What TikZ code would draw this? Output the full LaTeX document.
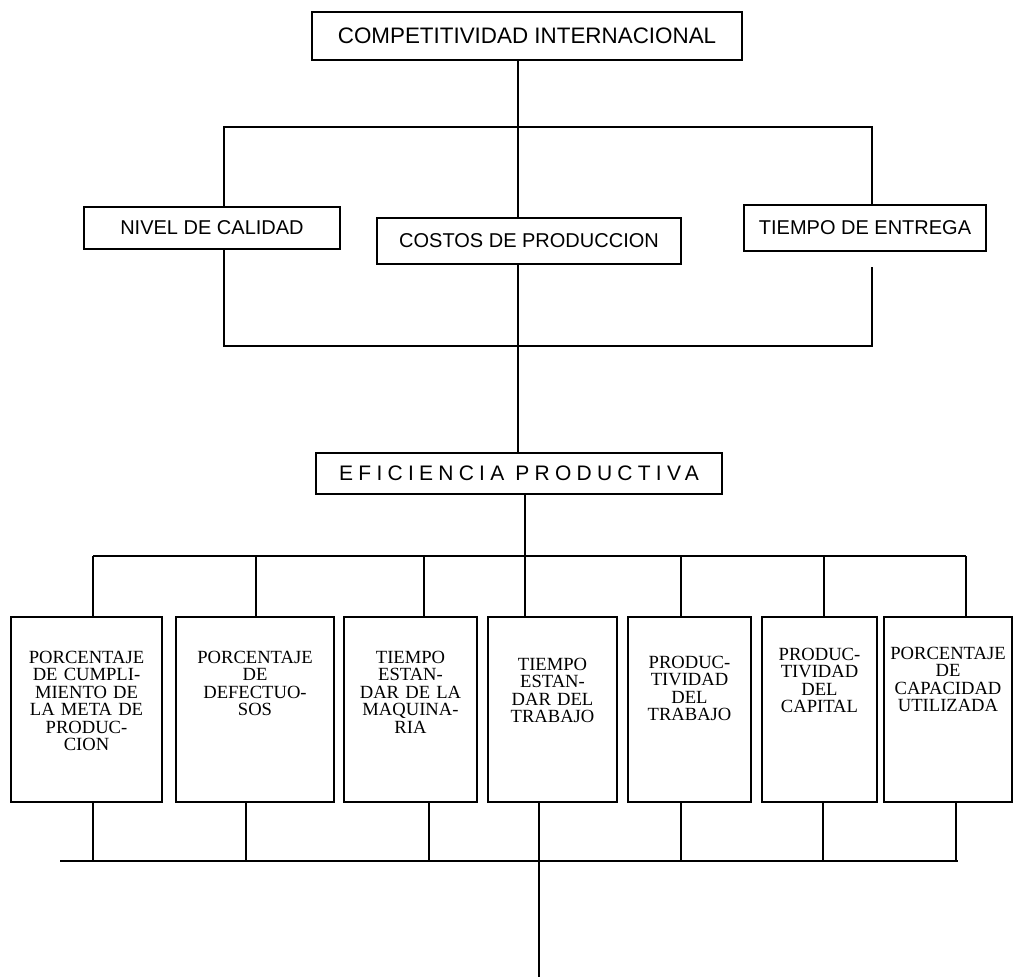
\documentclass[tikz,border=0pt]{standalone}
\usepackage{fontspec}
\setmainfont{Liberation Serif}
\setsansfont{Liberation Sans}
\newfontfamily\spacedsans[LetterSpace=25]{Liberation Sans}
\usetikzlibrary{calc}

% texto de los indicadores, pegado arriba de la caja
\newcommand{\indlabel}[2]{\parbox[c][92.5pt][t]{\hsize}{\centering\vspace*{#1}#2}}

\begin{document}
\begin{tikzpicture}[x=0.5pt,y=-0.5pt,line width=0.8pt,
  sansbox/.style={draw, line width=0.9pt, inner sep=0pt, font=\sffamily\fontsize{10}{12}\selectfont},
  indbox/.style={draw, line width=1.2pt, inner sep=0pt, text width=#1, font=\fontsize{9.3}{8.75}\selectfont}]
\useasboundingbox (0,0) rectangle (1019,979);

% niveles superiores
\node[sansbox, minimum width=215pt, minimum height=24pt, font=\sffamily\fontsize{11.2}{13}\selectfont] (comp) at (527,36) {COMPETITIVIDAD INTERNACIONAL};
\node[sansbox, minimum width=128pt, minimum height=21pt] (cal) at (212,228) {NIVEL DE CALIDAD};
\node[sansbox, minimum width=152pt, minimum height=23pt] (cost) at (529,241) {COSTOS DE PRODUCCION};
\node[sansbox, minimum width=121pt, minimum height=23pt] (ent) at (865,228) {TIEMPO DE ENTREGA};
\node[sansbox, minimum width=203pt, minimum height=20.5pt, font=\spacedsans\fontsize{10.5}{12}\selectfont] (efi) at (519,473.5) {EFICIENCIA PRODUCTIVA};

% indicadores
\node[indbox=75.5pt] (p1) at (86.5,709.5) {\indlabel{17pt}{PORCENTAJE\\DE CUMPLI-\\MIENTO DE\\LA META DE\\PRODUC-\\CION}};
\node[indbox=79pt] (p2) at (255,709.5) {\indlabel{17pt}{PORCENTAJE\\DE\\DEFECTUO-\\SOS}};
\node[indbox=66.5pt] (p3) at (410.5,709.5) {\indlabel{17pt}{TIEMPO\\ESTAN-\\DAR DE LA\\MAQUINA-\\RIA}};
\node[indbox=64.5pt] (p4) at (552.5,709.5) {\indlabel{20.5pt}{TIEMPO\\ESTAN-\\DAR DEL\\TRABAJO}};
\node[indbox=61.5pt] (p5) at (689.5,709.5) {\indlabel{19.5pt}{PRODUC-\\TIVIDAD\\DEL\\TRABAJO}};
\node[indbox=57.5pt] (p6) at (819.5,709.5) {\indlabel{15.5pt}{PRODUC-\\TIVIDAD\\DEL\\CAPITAL}};
\node[indbox=64pt] (p7) at (948,709.5) {\indlabel{15pt}{PORCENTAJE\\DE\\CAPACIDAD\\UTILIZADA}};

% conexiones de arriba
\coordinate (j1) at (518,127);
\coordinate (h1l) at (224,127);
\coordinate (h1r) at (872,127);
\coordinate (h2l) at (224,346);
\coordinate (h2r) at (872,346);
\coordinate (gap) at (872,267);
\draw (comp.south -| j1) -- (j1);
\draw (cal.north -| h1l) -- (h1l) -- (h1r) -- (ent.north -| h1r);
\draw (j1) -- (cost.north -| j1);
\draw (cal.south -| h2l) -- (h2l) -- (h2r) -- (gap);
\draw (cost.south -| j1) -- (efi.north -| j1);

% conexiones de abajo
\coordinate (j2) at (525,556);
\coordinate (h3l) at (93,556);
\coordinate (h3r) at (966,556);
\draw (efi.south -| j2) -- (j2);
\draw (h3l) -- (h3r);
\foreach \b/\x in {p1/93,p2/256,p3/424,p4/525,p5/681,p6/824,p7/966}{
  \coordinate (t\b) at (\x,556);
  \draw (t\b) -- (\b.north -| t\b);
}
\coordinate (h4l) at (60,861);
\coordinate (h4r) at (958,861);
\coordinate (fin) at (539,977);
\draw (h4l) -- (h4r);
\foreach \b/\x in {p1/93,p2/246,p3/429,p5/681,p6/823,p7/956}{
  \coordinate (s\b) at (\x,861);
  \draw (\b.south -| s\b) -- (s\b);
}
\draw (p4.south -| fin) -- (fin);
\end{tikzpicture}
\end{document}
